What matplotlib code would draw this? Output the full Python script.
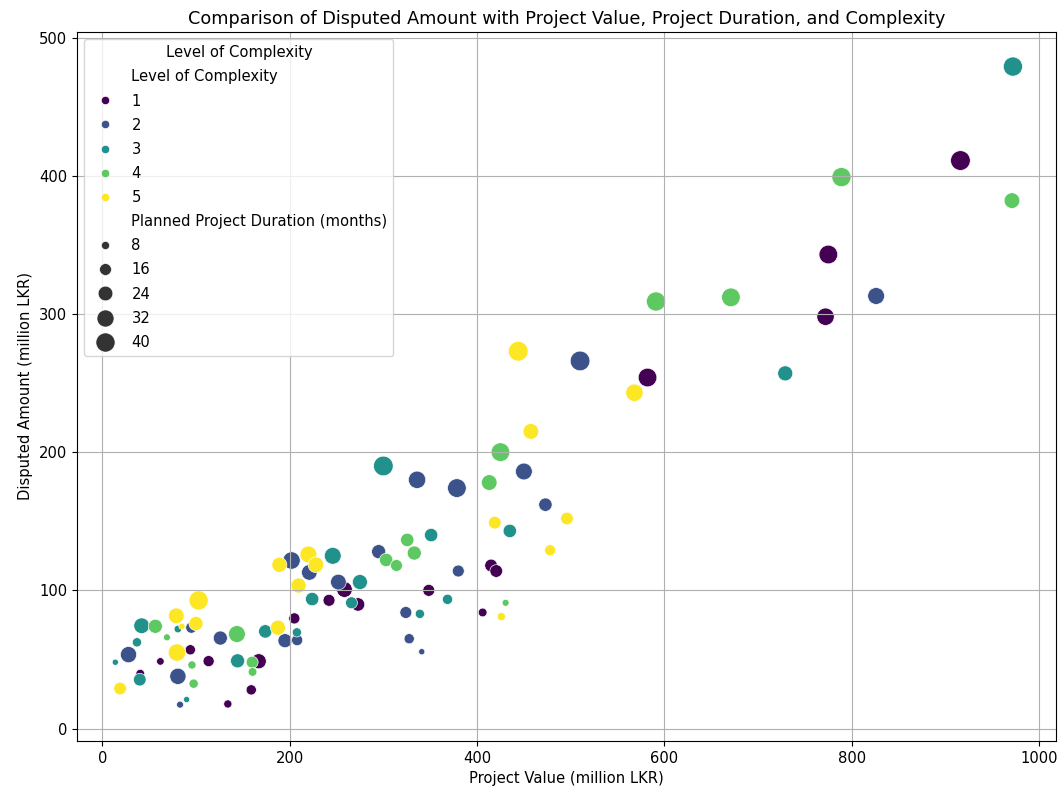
import matplotlib
matplotlib.use("Agg")
import matplotlib.pyplot as plt
import seaborn as sns
import pandas as pd

# Level of complexity 1
c1_value = [916, 775, 772, 582, 415, 420.5, 348.5, 406, 258.5, 242, 273, 205, 94, 113.5, 167, 159, 134, 62, 40.5]
c1_disputed = [411, 343, 298, 254, 118, 114, 100, 84, 100.6, 92.8, 89.8, 79.7, 57, 48.8, 48.7, 28, 17.8, 48.6, 39.7]
c1_duration = [42, 38, 33, 38, 18, 18, 16, 9, 27, 16, 20, 14, 12, 14, 25, 12, 8, 7, 9]

# Level of complexity 2
c2_value = [826, 510, 450, 336, 378.5, 473, 295, 380, 324, 327.6, 341, 202, 221, 252, 195, 208, 95, 126, 28, 80.7, 83]
c2_disputed = [313, 266, 186, 180, 174, 162, 128, 114, 84, 65, 55.6, 121.6, 113, 106, 63.6, 64, 73, 65.5, 53.5, 37.8, 17.3]
c2_duration = [31, 42, 31, 33, 38, 20, 22, 16, 16, 12, 5, 33, 27, 27, 22, 14, 14, 22, 29, 29, 6]

# Level of complexity 3
c3_value = [972, 729, 300, 435, 351, 368.5, 339, 246, 275, 224, 266, 207.7, 174, 144.4, 90, 80.7, 42, 37, 13.9, 40]
c3_disputed = [479, 257, 190, 143, 140, 93.5, 83, 125, 106, 93.7, 91, 69.6, 70.3, 49, 21, 72, 74.4, 62.4, 48, 35.4]
c3_duration = [40, 25, 42, 20, 20, 12, 10, 31, 25, 20, 16, 10, 20, 22, 5, 7, 27, 10, 5, 18]

# Level of complexity 4
c4_value = [789, 971, 671, 591, 425, 413, 325.5, 333, 303, 314, 430.5, 143.7, 160, 160.4, 95.7, 97.5, 56.6, 69]
c4_disputed = [399, 382, 312, 309, 200, 178, 136.5, 127, 122, 118, 91, 68.4, 48, 41, 46, 32.5, 74, 66]
c4_duration = [40, 27, 38, 40, 38, 27, 20, 22, 20, 16, 6, 31, 16, 9, 8, 10, 22, 6]

# Level of complexity 5
c5_value = [444, 568, 457.5, 496, 419, 478, 426, 220, 228, 189, 209.5, 102.8, 100, 187.5, 79, 85, 79.7, 19]
c5_disputed = [273, 243, 215, 152, 149, 129, 81, 126, 118.5, 118.5, 103.5, 92.7, 76, 73, 81.6, 74, 55, 29]
c5_duration = [42, 33, 27, 18, 18, 14, 8, 31, 27, 25, 25, 40, 22, 25, 27, 5, 33, 18]

complexity_levels = [1, 2, 3, 4, 5]

values = [c1_value, c2_value, c3_value, c4_value, c5_value]
disputed = [c1_disputed, c2_disputed, c3_disputed, c4_disputed, c5_disputed]
durations = [c1_duration, c2_duration, c3_duration, c4_duration, c5_duration]

rows = []
for lvl, xs, ys, ds in zip(complexity_levels, values, disputed, durations):
    for x, y, d in zip(xs, ys, ds):
        rows.append({"Project Value (million LKR)": x,
                     "Disputed Amount (million LKR)": y,
                     "Level of Complexity": lvl,
                     "Planned Project Duration (months)": d})
df = pd.DataFrame(rows)

plt.rcParams["font.size"] = 10.6

fig = plt.figure(figsize=(10.58, 7.91), dpi=100)
ax = fig.add_axes([77 / 1058, 1 - 741 / 791, (1056 - 77) / 1058, (741 - 32) / 791])

sns.scatterplot(data=df, x="Project Value (million LKR)", y="Disputed Amount (million LKR)",
                hue="Level of Complexity", size="Planned Project Duration (months)",
                sizes=(20, 200), palette="viridis", ax=ax)

ax.set_xlim(-27, 1018)
ax.set_ylim(-9, 504)
ax.set_title("Comparison of Disputed Amount with Project Value, Project Duration, and Complexity",
             fontsize=12.7)
ax.grid(True)
ax.legend(title="Level of Complexity", loc="upper left", labelspacing=0.62)

fig.savefig("out.png", dpi=100)
